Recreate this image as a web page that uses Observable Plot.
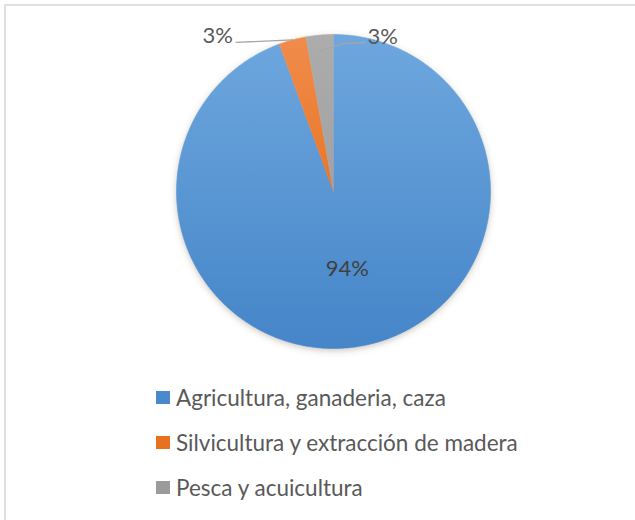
<!DOCTYPE html>
<html><head><meta charset="utf-8">
<script src="https://cdn.jsdelivr.net/npm/d3@7"></script>
<script src="https://cdn.jsdelivr.net/npm/@observablehq/plot@0.6"></script>
<style>
html,body{margin:0;padding:0;background:#fff;overflow:hidden}
#wrap{position:relative;width:635px;height:520px;overflow:hidden;font-family:Lato,"Open Sans",sans-serif;background:#fff}
#chart{position:absolute;left:0;top:0}
#frame{position:absolute;left:4px;top:4px;width:700px;height:600px;border:2px solid #e0e0e0;box-sizing:border-box;pointer-events:none}
#legend{position:absolute;left:156px;top:375px}
.row{display:flex;align-items:center;height:45px;font-size:22.5px;color:#595959;white-space:nowrap}
.sw{width:14px;height:13px;margin-right:6px;flex:none}
</style></head><body>
<div id="wrap"><div id="chart"></div><div id="legend"></div><div id="frame"></div></div>
<script>
// ---- data ----
const categories = ["Agricultura, ganaderia, caza", "Silvicultura y extracción de madera", "Pesca y acuicultura"];
const values = [94.4, 2.8, 2.8];
const swatchColors = ["#4a89cb", "#e9701f", "#9b9b9b"];

// ---- geometry via d3.pie ----
const arcs = d3.pie().sort(null).value(d => d)(values);
const slicePts = [];
arcs.forEach((a, i) => {
  slicePts.push({cat: categories[i], x: 0, y: 0});
  const n = Math.max(4, Math.ceil((a.endAngle - a.startAngle) / (Math.PI / 360)));
  for (let k = 0; k <= n; k++) {
    const t = a.startAngle + (a.endAngle - a.startAngle) * k / n;
    slicePts.push({cat: categories[i], x: Math.sin(t), y: Math.cos(t)});
  }
});
const mid = a => (a.startAngle + a.endAngle) / 2;
const pct = v => Math.round(v) + "%";

// inside label for the big slice
const inside = [{x: Math.sin(mid(arcs[0])) * 0.5, y: Math.cos(mid(arcs[0])) * 0.5, t: pct(values[0])}];

// callouts for the small slices
const aO = mid(arcs[1]), aG = mid(arcs[2]);
const leaders = [
  {s: "o", x: Math.sin(aO) * 1.0, y: Math.cos(aO) * 1.0},
  {s: "o", x: -0.62, y: 0.95},
  {s: "g", x: Math.sin(aG) * 0.9, y: Math.cos(aG) * 0.9},
  {s: "g", x: 0.064, y: 0.943},
  {s: "g", x: 0.204, y: 0.949}
];
const outLabels = [
  {x: -0.64, y: 0.99, t: pct(values[1]), anchor: "end"},
  {x: 0.217, y: 0.985, t: pct(values[2]), anchor: "start"}
];

const plot = Plot.plot({
  width: 635,
  height: 375,
  x: {domain: [-1, 1], range: [176, 490], axis: null},
  y: {domain: [-1, 1], range: [348, 34], axis: null},
  color: {domain: categories, range: ["url(#gBlue)", "url(#gOrange)", "url(#gGray)"]},
  style: {fontFamily: "Lato, 'Open Sans', sans-serif", background: "transparent"},
  marks: [
    Plot.line(slicePts, {x: "x", y: "y", z: "cat", fill: "cat", stroke: "cat", strokeWidth: 0.6, curve: "linear"}),
    Plot.line(leaders, {x: "x", y: "y", z: "s", stroke: "#a6a6a6", strokeWidth: 1.3}),
    Plot.text(inside, {x: "x", y: "y", text: "t", fontSize: 22, fill: "#404040"}),
    Plot.text(outLabels.filter(d => d.anchor === "end"), {x: "x", y: "y", text: "t", fontSize: 22, fill: "#595959", textAnchor: "end"}),
    Plot.text(outLabels.filter(d => d.anchor === "start"), {x: "x", y: "y", text: "t", fontSize: 22, fill: "#595959", textAnchor: "start"})
  ]
});

// gradients and shadow
const svg = d3.select(plot);
const defs = svg.insert("defs", ":first-child");
function grad(id, c1, c2) {
  const g = defs.append("linearGradient").attr("id", id).attr("x1", 0).attr("y1", 0).attr("x2", 0).attr("y2", 1);
  g.append("stop").attr("offset", "0%").attr("stop-color", c1);
  g.append("stop").attr("offset", "100%").attr("stop-color", c2);
}
grad("gBlue", "#6ea7de", "#4585c8");
grad("gOrange", "#f08c4c", "#ea7526");
grad("gGray", "#acacac", "#a2a2a2");
const f = defs.append("filter").attr("id", "shadow").attr("x", "-10%").attr("y", "-10%").attr("width", "120%").attr("height", "125%");
f.append("feDropShadow").attr("dx", 0).attr("dy", 2).attr("stdDeviation", 3).attr("flood-color", "#5a4a30").attr("flood-opacity", 0.3);
svg.select("g[aria-label=line]").attr("filter", "url(#shadow)");

document.getElementById("chart").appendChild(plot);

// legend
const leg = d3.select("#legend");
categories.forEach((c, i) => {
  const r = leg.append("div").attr("class", "row");
  r.append("div").attr("class", "sw").style("background", swatchColors[i]);
  r.append("span").text(c);
});
</script>
</body></html>
